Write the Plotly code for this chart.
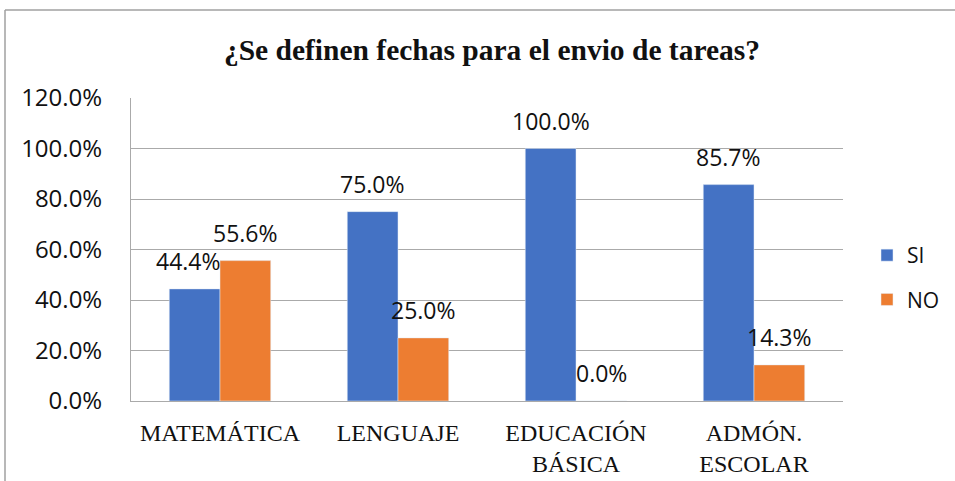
import plotly.graph_objects as go

categories = ["MATEMÁTICA", "LENGUAJE", "EDUCACIÓN<br>BÁSICA", "ADMÓN.<br>ESCOLAR"]
si_values = [44.4, 75.0, 100.0, 85.7]
no_values = [55.6, 25.0, 0.0, 14.3]
y_ticks = [0, 20, 40, 60, 80, 100, 120]
y_tick_labels = [f"{v:.1f}%" for v in y_ticks]

sans = "Open Sans, Liberation Sans, sans-serif"
serif = "Liberation Serif, Times New Roman, serif"
label_font = dict(family=sans, size=23, color="#111111")

fig = go.Figure()
fig.add_trace(go.Bar(name="SI", x=categories, y=si_values, marker_color="#4472C4",
                     legendgroup="si"))
fig.add_trace(go.Bar(name="NO", x=categories, y=no_values, marker_color="#ED7D31",
                     legendgroup="no"))

L, R, T, B = 131, 112, 98, 80
W, H = 955, 481
pw, ph = W - L - R, H - T - B
bar_px = pw / len(categories) * (1 - 0.43) / 2

def px(x):
    return (x - L) / pw

def py(y):
    return (H - B - y) / ph

# value labels above the bars, placed on the data scale
for cat, v in zip(categories, si_values):
    fig.add_annotation(x=cat, y=v, text=f"{v:.1f}%", showarrow=False,
                       xshift=-bar_px / 2 - (6 if cat == categories[0] else 0),
                       yshift=10, yanchor="bottom", font=label_font)
for cat, v in zip(categories, no_values):
    fig.add_annotation(x=cat, y=v, text=f"{v:.1f}%", showarrow=False,
                       xshift=bar_px / 2, yshift=10, yanchor="bottom", font=label_font)

fig.update_layout(
    width=W, height=H,
    margin=dict(l=L, r=R, t=T, b=B, autoexpand=False),
    paper_bgcolor="white", plot_bgcolor="white",
    barmode="group", bargap=0.43, bargroupgap=0,
    title=dict(
        text="<b>¿Se definen fechas para el envio de tareas?</b>",
        x=492 / W, xanchor="center", y=1 - 50 / H, yanchor="middle",
        font=dict(family=serif, size=29.5, color="#111111"),
    ),
    legend=dict(
        x=px(867), y=py(235), xanchor="left", yanchor="top",
        font=dict(family=sans, size=21, color="#111111"),
        tracegroupgap=14, itemwidth=30, bgcolor="rgba(0,0,0,0)",
    ),
    showlegend=True,
    font=dict(family=sans),
)
fig.update_yaxes(
    range=[0, 120], tickvals=y_ticks, ticktext=y_tick_labels,
    showgrid=True, gridcolor="#AAAAAA", gridwidth=1,
    zeroline=False, showline=True, linecolor="#AAAAAA", linewidth=1,
    ticks="", ticklabelstandoff=23, automargin=False,
    tickfont=dict(family=sans, size=24, color="#111111"),
)
fig.update_xaxes(
    showline=True, linecolor="#AAAAAA", linewidth=1, ticks="",
    tickfont=dict(family=serif, size=24, color="#111111"),
    ticklabelstandoff=10, automargin=False,
)

# outer chart border (top and left edges visible)
fig.add_shape(type="line", xref="paper", yref="paper",
              x0=px(5), x1=px(955), y0=py(10), y1=py(10),
              line=dict(color="#A0A0A0", width=1.5))
fig.add_shape(type="line", xref="paper", yref="paper",
              x0=px(5), x1=px(5), y0=py(10), y1=py(481),
              line=dict(color="#A0A0A0", width=1.5))

fig.write_html(
    "out.html",
    config={"displayModeBar": False},
    post_script="document.body.style.margin='0';document.body.style.overflow='hidden';",
)
